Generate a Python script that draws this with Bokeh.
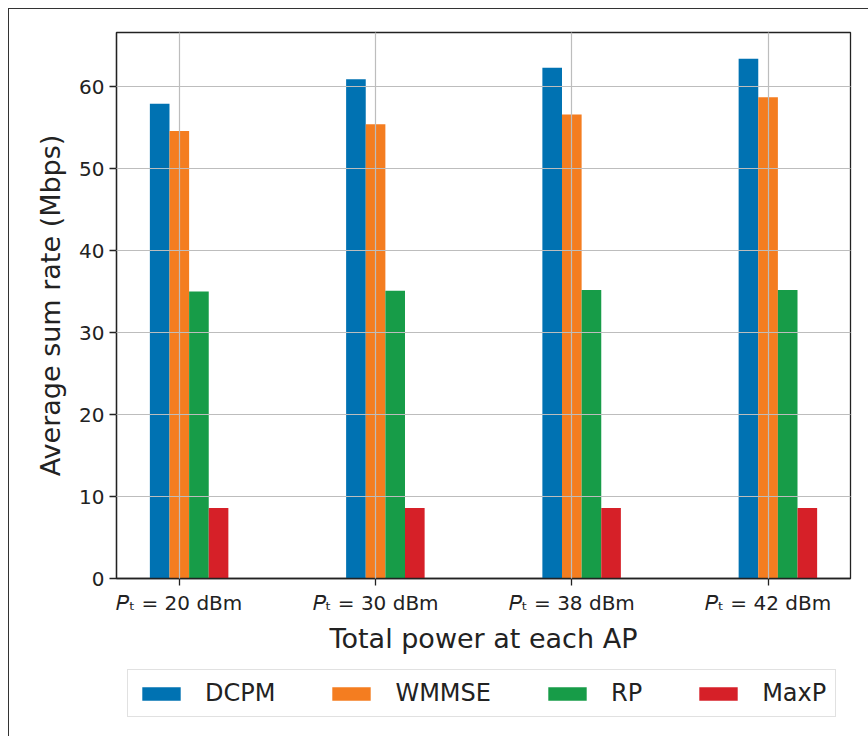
import numpy as np
from bokeh.plotting import figure
from bokeh.layouts import column
from bokeh.models import Range1d, FixedTicker, Legend, LegendItem
from bokeh.embed import file_html
from bokeh.resources import INLINE

# Transmit power settings at each AP (x categories)
power_labels = ["𝑃ₜ = 20 dBm", "𝑃ₜ = 30 dBm", "𝑃ₜ = 38 dBm", "𝑃ₜ = 42 dBm"]

# Average sum rate (Mbps) for each scheme
dcpm = [57.9, 60.9, 62.3, 63.4]
wmmse = [54.6, 55.4, 56.6, 58.7]
rp = [35.0, 35.1, 35.2, 35.2]
maxp = [8.6, 8.6, 8.6, 8.6]

series_names = ["DCPM", "WMMSE", "RP", "MaxP"]
series_colors = ["#0072b2", "#f47d20", "#179c48", "#d62028"]

FONT = "DejaVu Sans"
TEXT = "#222222"
bar_w = 0.1
offsets = [-0.1, 0.0, 0.1, 0.2]
base = np.arange(len(power_labels))

# ---- main bar chart -------------------------------------------------------
p = figure(
    frame_width=734, frame_height=546,
    min_border_left=107, min_border_top=23, min_border_right=18, min_border_bottom=90,
    x_range=Range1d(-0.32, 3.42), y_range=Range1d(0, 66.6),
    output_backend="svg", toolbar_location=None,
)
p.background_fill_color = "white"
p.border_fill_color = "white"
p.outline_line_color = TEXT
p.outline_line_width = 1.3

for vals, off, col in zip([dcpm, wmmse, rp, maxp], offsets, series_colors):
    p.vbar(x=base + off, top=vals, width=bar_w, bottom=0,
           fill_color=col, line_color=None)

# grid lines are drawn over the bars
p.grid.level = "overlay"
p.grid.grid_line_color = "#bdbdbd"
p.grid.grid_line_width = 1.2

p.xaxis.ticker = FixedTicker(ticks=list(base))
p.xaxis.major_label_overrides = {int(i): lab for i, lab in zip(base, power_labels)}
p.yaxis.ticker = FixedTicker(ticks=[0, 10, 20, 30, 40, 50, 60])

for ax in (p.xaxis[0], p.yaxis[0]):
    ax.axis_line_color = TEXT
    ax.axis_line_width = 1.3
    ax.major_tick_line_color = TEXT
    ax.major_tick_line_width = 1.3
    ax.major_tick_in = 0
    ax.major_tick_out = 7
    ax.minor_tick_line_color = None
    ax.major_label_text_font = FONT
    ax.major_label_text_font_size = "20px"
    ax.major_label_text_color = TEXT
    ax.major_label_standoff = 5
    ax.axis_label_text_font = FONT
    ax.axis_label_text_font_size = "27px"
    ax.axis_label_text_font_style = "normal"
    ax.axis_label_text_color = TEXT

p.xaxis.axis_label = "Total power at each AP"
p.xaxis.axis_label_standoff = 5
p.yaxis.axis_label = "Average sum rate (Mbps)"
p.yaxis.axis_label_standoff = 10

# ---- legend strip below the chart -----------------------------------------
lg = figure(
    frame_width=859, frame_height=70, min_border=0,
    x_range=Range1d(0, 1), y_range=Range1d(0, 1),
    x_axis_location=None, y_axis_location=None,
    output_backend="svg", toolbar_location=None,
)
lg.grid.visible = False
lg.outline_line_color = None
lg.background_fill_color = "white"
lg.border_fill_color = "white"

# zero-width bars that only supply the legend swatches
swatches = [lg.vbar(x=[0.5], top=[0], bottom=[0], width=0, fill_color=c, line_color=None)
            for c in series_colors]

legend = Legend(
    items=[LegendItem(label=n, renderers=[r]) for n, r in zip(series_names, swatches)],
    orientation="horizontal", location=(118, 21),
    label_text_font=FONT, label_text_font_size="24px", label_text_color=TEXT,
    glyph_width=48, glyph_height=17,
    label_standoff=20, spacing=52, padding=9, margin=0,
    border_line_color="#c4c4c4", border_line_width=1.5,
    background_fill_color="white", background_fill_alpha=1.0,
)
lg.add_layout(legend, "center")

layout = column(p, lg, spacing=0)
layout.styles = {
    "margin-left": "8px", "margin-top": "8px",
    "border-top": "1px solid #333", "border-left": "1px solid #333",
}

open("out.html", "w").write(file_html(layout, INLINE))
